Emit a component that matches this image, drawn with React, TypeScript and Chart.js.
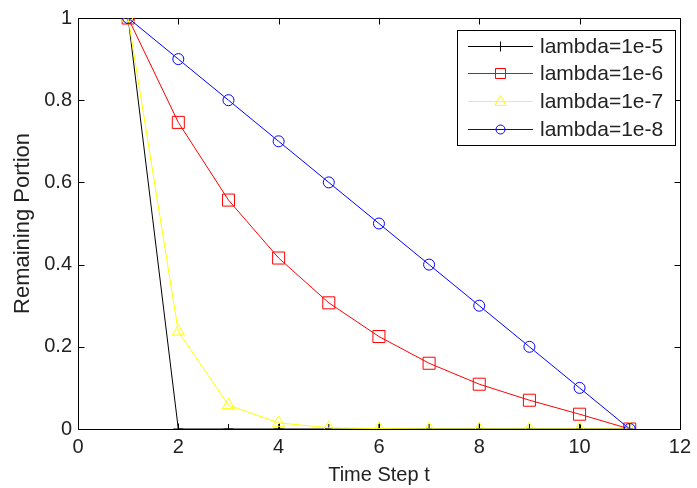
import React, { useEffect, useRef } from "react";
import { Chart, registerables } from "chart.js";

Chart.register(...registerables);

const timeSteps = [1, 2, 3, 4, 5, 6, 7, 8, 9, 10, 11];
const lambda5 = [1, 0, 0, 0, 0, 0, 0, 0, 0, 0, 0];
const lambda6 = [1, 0.746, 0.557, 0.416, 0.307, 0.225, 0.16, 0.109, 0.07, 0.036, 0];
const lambda7 = [1, 0.237, 0.058, 0.015, 0.003, 0.001, 0, 0, 0, 0, 0];
const lambda8 = [1, 0.9, 0.8, 0.7, 0.6, 0.5, 0.4, 0.3, 0.2, 0.1, 0];
const seriesLabels = ["lambda=1e-5", "lambda=1e-6", "lambda=1e-7", "lambda=1e-8"];
const xTicks = [0, 2, 4, 6, 8, 10, 12];
const yTicks = [0, 0.2, 0.4, 0.6, 0.8, 1];

const FONT = "'Liberation Sans', Arial, sans-serif";

const toXY = (vals: number[]) => vals.map((v, i) => ({ x: timeSteps[i], y: v }));

const framePlugin = {
  id: "frame",
  beforeDatasetsDraw(chart: any) {
    const { ctx, chartArea: a, scales } = chart;
    ctx.save();
    ctx.strokeStyle = "#000";
    ctx.lineWidth = 1;
    const L = Math.round(a.left) + 0.5, R = Math.round(a.right) + 0.5;
    const T = Math.round(a.top) + 0.5, B = Math.round(a.bottom) + 0.5;
    ctx.strokeRect(L, T, R - L, B - T);
    const len = 6;
    ctx.beginPath();
    xTicks.forEach((t) => {
      const px = Math.round(scales.x.getPixelForValue(t)) + 0.5;
      ctx.moveTo(px, B); ctx.lineTo(px, B - len);
      ctx.moveTo(px, T); ctx.lineTo(px, T + len);
    });
    yTicks.forEach((t) => {
      const py = Math.round(scales.y.getPixelForValue(t)) + 0.5;
      ctx.moveTo(L, py); ctx.lineTo(L + len, py);
      ctx.moveTo(R, py); ctx.lineTo(R - len, py);
    });
    ctx.stroke();
    ctx.restore();
  },
};

function drawMarker(ctx: CanvasRenderingContext2D, style: string, x: number, y: number, r: number) {
  ctx.beginPath();
  if (style === "cross") {
    ctx.moveTo(x, y - r); ctx.lineTo(x, y + r);
    ctx.moveTo(x - r, y); ctx.lineTo(x + r, y);
  } else if (style === "rect") {
    ctx.rect(x - r, y - r, 2 * r, 2 * r);
  } else if (style === "triangle") {
    ctx.moveTo(x, y - r);
    ctx.lineTo(x + r * 0.95, y + r * 0.65);
    ctx.lineTo(x - r * 0.95, y + r * 0.65);
    ctx.closePath();
  } else {
    ctx.arc(x, y, r, 0, Math.PI * 2);
  }
  ctx.stroke();
}

const legendPlugin = {
  id: "boxLegend",
  afterDraw(chart: any) {
    const { ctx } = chart;
    const bx = 457.5, by = 30.5, bw = 218, bh = 115;
    ctx.save();
    ctx.fillStyle = "#fff";
    ctx.fillRect(bx, by, bw, bh);
    ctx.strokeStyle = "#000";
    ctx.lineWidth = 1;
    ctx.strokeRect(bx, by, bw, bh);
    const rows = [46, 73, 101, 129];
    const markers = [
      { s: "cross", r: 5 },
      { s: "rect", r: 5 },
      { s: "triangle", r: 6 },
      { s: "circle", r: 4.5 },
    ];
    chart.data.datasets.forEach((ds: any, i: number) => {
      const y = rows[i] + 0.5;
      ctx.strokeStyle = ds.borderColor;
      ctx.lineWidth = 1;
      ctx.beginPath();
      ctx.moveTo(468, y); ctx.lineTo(533, y);
      ctx.stroke();
      drawMarker(ctx, markers[i].s, 500.5, y, markers[i].r);
      ctx.fillStyle = "#222";
      ctx.font = `21px ${FONT}`;
      ctx.textBaseline = "middle";
      ctx.textAlign = "left";
      ctx.fillText(ds.label, 540, rows[i] + 1);
    });
    ctx.restore();
  },
};

export default function App() {
  const ref = useRef<HTMLCanvasElement | null>(null);
  useEffect(() => {
    if (!ref.current) return;
    const mk = (i: number, data: number[], color: string, style: string, r: number, order: number) => ({
      label: seriesLabels[i],
      data: toXY(data),
      borderColor: color,
      backgroundColor: color,
      borderWidth: 1,
      pointStyle: style,
      pointRadius: r,
      pointBorderWidth: 1,
      pointBackgroundColor: "rgba(0,0,0,0)",
      pointBorderColor: color,
      tension: 0,
      order,
    });
    const chart = new Chart(ref.current, {
      type: "line",
      data: {
        datasets: [
          mk(0, lambda5, "#000000", "cross", 5, 3),
          mk(1, lambda6, "#ff0000", "rect", 8.5, 2),
          mk(2, lambda7, "#ffff00", "triangle", 7, 1),
          mk(3, lambda8, "#0000ff", "circle", 5.5, 0),
        ],
      },
      options: {
        responsive: false,
        animation: false,
        layout: { padding: { top: 16, right: 11, left: 0, bottom: 0 } },
        plugins: { legend: { display: false }, tooltip: { enabled: false } },
        scales: {
          x: {
            type: "linear",
            min: 0,
            max: 12,
            afterBuildTicks: (s: any) => { s.ticks = xTicks.map((v) => ({ value: v })); },
            afterFit: (s: any) => { s.height = 59; },
            grid: { display: false, drawTicks: false },
            border: { display: false },
            ticks: {
              font: { size: 20, family: FONT },
              color: "#222",
              padding: 6,
              maxRotation: 0,
              callback: (v: any) => String(v),
            },
            title: {
              display: true,
              text: "Time Step t",
              font: { size: 20, family: FONT },
              color: "#222",
              padding: { top: 0, bottom: 1 },
            },
          },
          y: {
            type: "linear",
            min: 0,
            max: 1,
            afterBuildTicks: (s: any) => { s.ticks = yTicks.map((v) => ({ value: v })); },
            afterFit: (s: any) => { s.width = 78; },
            grid: { display: false, drawTicks: false },
            border: { display: false },
            ticks: {
              font: { size: 20, family: FONT },
              color: "#222",
              padding: 6,
              callback: (v: any) => String(Math.round(Number(v) * 10) / 10),
            },
            title: {
              display: true,
              text: "Remaining Portion",
              font: { size: 22, family: FONT },
              color: "#222",
              padding: { top: 10, bottom: 0 },
            },
          },
        },
      },
      plugins: [framePlugin, legendPlugin],
    } as any);
    return () => chart.destroy();
  }, []);
  return (
    <div style={{ position: "absolute", left: 0, top: 0, width: 697, height: 488, background: "#fff" }}>
      <canvas ref={ref} width={697} height={488} style={{ display: "block" }} />
    </div>
  );
}
